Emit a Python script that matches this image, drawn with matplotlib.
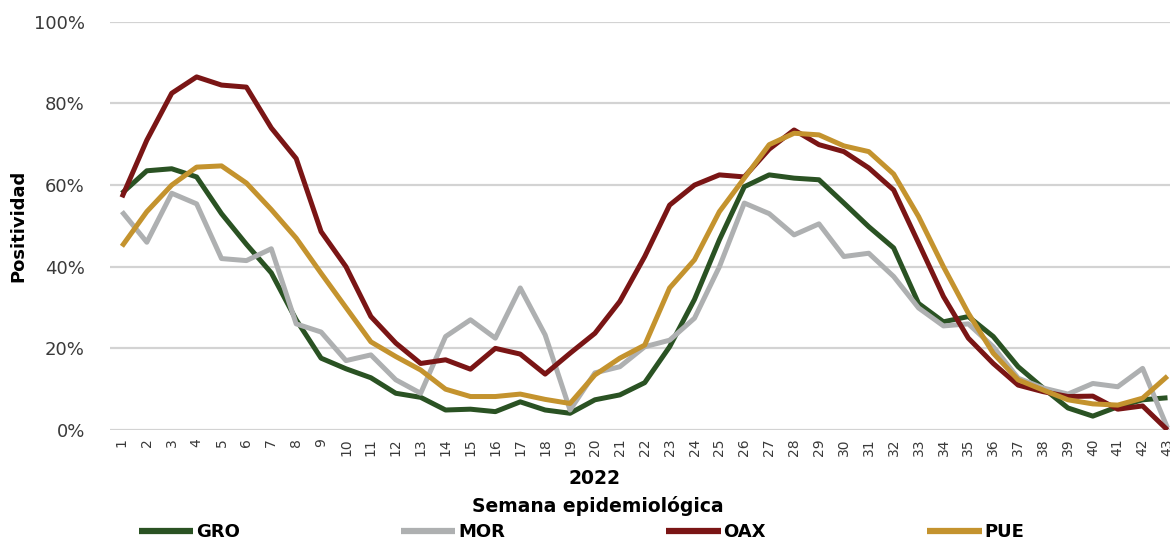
import matplotlib
matplotlib.use("Agg")
import matplotlib.pyplot as plt
from matplotlib.ticker import PercentFormatter

plt.rcParams["font.family"] = ["DejaVu Sans"]

# semanas epidemiologicas 2022
semanas = list(range(1, 44))

# positividad (%) por estado
gro = [58, 63.5, 64, 62, 53, 45.5, 38.5, 27, 17.6, 15, 12.8, 9, 8,
       4.9, 5.1, 4.5, 6.9, 4.9, 4.1, 7.4, 8.6, 11.6, 20.4, 32, 46.6, 59.6, 62.5,
       61.7, 61.3, 55.6, 49.8, 44.6, 31, 26.5, 27.8, 22.9, 15.5, 10.3, 5.4, 3.4, 5.7, 7.4, 7.9]
mor = [53.5, 46, 58, 55.4, 42, 41.5, 44.4, 26, 24, 17, 18.4, 12.3, 9,
       22.9, 27, 22.5, 34.8, 23.3, 4.9, 14, 15.5, 20.4, 22, 27.4, 40, 55.6, 53,
       47.8, 50.5, 42.5, 43.3, 37.6, 29.9, 25.5, 26, 20.4, 12.7, 10.3, 8.8, 11.4, 10.6, 15.1, 0.5]
oax = [57, 71, 82.5, 86.5, 84.5, 84, 74, 66.5, 48.6, 40, 27.8, 21.3, 16.3,
       17.2, 14.9, 20, 18.6, 13.7, 18.8, 23.7, 31.5, 42.5, 55.1, 60, 62.5, 62, 68.8,
       73.5, 69.9, 68.2, 64.2, 58.8, 45.8, 32.7, 22.5, 16.3, 11, 9.4, 8.2, 8.3, 5.1, 5.9, 0]
pue = [45, 53.5, 60, 64.4, 64.7, 60.5, 54, 47, 38.4, 30, 21.6, 18, 14.7,
       10, 8.2, 8.2, 8.8, 7.5, 6.5, 13.5, 17.6, 20.8, 34.8, 41.7, 53.5, 61.7, 69.9,
       72.7, 72.3, 69.6, 68.2, 62.7, 52.3, 40, 28.6, 18.8, 12.3, 9.8, 7.4, 6.4, 6.1, 7.8, 13.2]

series = [("GRO", gro, "#2a5223"), ("MOR", mor, "#aeb0b1"),
          ("OAX", oax, "#7a1515"), ("PUE", pue, "#c4932e")]

fig = plt.figure(figsize=(11.7, 5.45), dpi=100)
ax = fig.add_axes([0.094, 0.211, 0.906, 0.749])

for nombre, vals, color in series:
    ax.plot(semanas, vals, color=color, lw=3.6, label=nombre, solid_capstyle="butt")

ax.set_ylim(0, 100)
ax.set_xlim(0.52, 43.1)
ax.set_yticks(range(0, 101, 20))
ax.yaxis.set_major_formatter(PercentFormatter(decimals=0))
ax.set_xticks(semanas)
ax.set_xticklabels([str(s) for s in semanas], rotation=90)
ax.tick_params(axis="y", length=0, pad=18, labelsize=13, labelcolor="#3a3a3a")
ax.tick_params(axis="x", length=0, pad=6, labelsize=10, labelcolor="#3a3a3a")
ax.grid(axis="y", color="#d3d3d3", lw=1.6)
ax.set_axisbelow(True)
for s in ax.spines.values():
    s.set_visible(False)

fig.text(0.016, 0.585, "Positividad", rotation=90, ha="center", va="center",
         fontsize=13, fontweight="bold")
fig.text(0.508, 0.122, "2022", ha="center", va="center", fontsize=13.5, fontweight="bold")
fig.text(0.511, 0.071, "Semana epidemiológica", ha="center", va="center",
         fontsize=13.5, fontweight="bold")

leg = fig.legend(loc="center", bbox_to_anchor=(0.497, 0.024), ncol=4, frameon=False,
                 handlelength=3.0, handletextpad=0.15, columnspacing=8.95,
                 prop={"size": 13, "weight": "bold"})
for h in leg.get_lines():
    h.set_linewidth(4.5)

fig.savefig("out.png", dpi=100)
